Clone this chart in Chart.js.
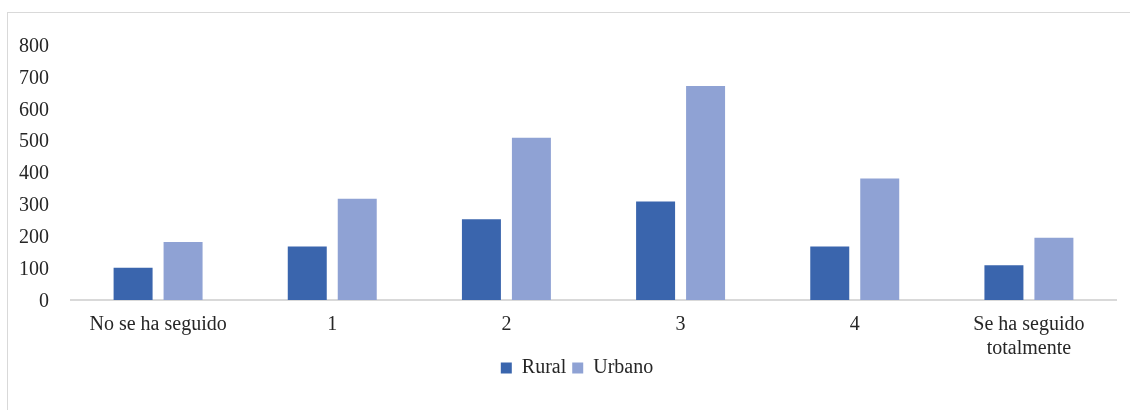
<!DOCTYPE html>
<html>
<head>
<meta charset="utf-8">
<script src="https://cdn.jsdelivr.net/npm/chart.js@4.4.1/dist/chart.umd.min.js"></script>
<style>
  html, body { margin: 0; padding: 0; background: #ffffff; }
  body { width: 1130px; height: 410px; position: relative; overflow: hidden; }
  #frame {
    position: absolute; left: 7px; top: 12px; width: 1140px; height: 420px;
    border: 1px solid #d9d9d9; box-sizing: border-box;
  }
  #wrap { position: absolute; left: 0; top: 0; width: 1130px; height: 410px; }
</style>
</head>
<body>
<div id="frame"></div>
<div id="wrap"><canvas id="chart" width="1130" height="410"></canvas></div>
<script>
// Categories along the x axis (degree to which the plan has been followed)
const categories = [
  'No se ha seguido',
  '1',
  '2',
  '3',
  '4',
  ['Se ha seguido', 'totalmente']
];

// Counts per group
const rural  = [101, 168, 253, 309, 168, 109];
const urbano = [182, 318, 509, 671, 381, 195];

// Y axis ticks
const yTicks = [0, 100, 200, 300, 400, 500, 600, 700, 800];

const seriesNames = ['Rural', 'Urbano'];
const seriesColors = ['#3a65ad', '#8fa2d4'];

const serif = "'Liberation Serif', 'Times New Roman', serif";
const textColor = '#262626';

// Place the legend slightly right of centre and tuck it up under the
// two-line category label
const legendShift = {
  id: 'legendShift',
  afterLayout(chart) {
    const lg = chart.legend;
    if (lg) {
      lg.left += 19;
      lg.right += 19;
      lg.top -= 10;
      lg.bottom -= 10;
    }
  }
};

new Chart(document.getElementById('chart'), {
  type: 'bar',
  data: {
    labels: categories,
    datasets: [
      { label: seriesNames[0], data: rural,  backgroundColor: seriesColors[0] },
      { label: seriesNames[1], data: urbano, backgroundColor: seriesColors[1] }
    ]
  },
  plugins: [legendShift],
  options: {
    responsive: false,
    animation: false,
    devicePixelRatio: 1,
    layout: { padding: { top: 45, left: 0, right: 14, bottom: 12 } },
    datasets: {
      bar: { categoryPercentage: 0.574, barPercentage: 0.78 }
    },
    scales: {
      x: {
        grid: { display: false, drawTicks: false },
        border: { display: true, color: '#d9d9d9', width: 2 },
        ticks: {
          color: textColor,
          font: { family: serif, size: 20, lineHeight: 1.2 },
          padding: 13,
          maxRotation: 0,
          autoSkip: false
        },
        afterFit: s => { s.height = 62; }
      },
      y: {
        min: 0,
        max: 800,
        afterBuildTicks: s => { s.ticks = yTicks.map(v => ({ value: v })); },
        grid: { display: false, drawTicks: false },
        border: { display: false },
        ticks: {
          color: textColor,
          font: { family: serif, size: 20 },
          padding: 22,
          labelOffset: 1.5
        },
        afterFit: s => { s.width = 71; }
      }
    },
    plugins: {
      title: { display: false },
      tooltip: { enabled: false },
      legend: {
        position: 'bottom',
        labels: {
          color: textColor,
          font: { family: serif, size: 20 },
          boxWidth: 11,
          boxHeight: 11,
          padding: 6
        }
      }
    }
  }
});
</script>
</body>
</html>
